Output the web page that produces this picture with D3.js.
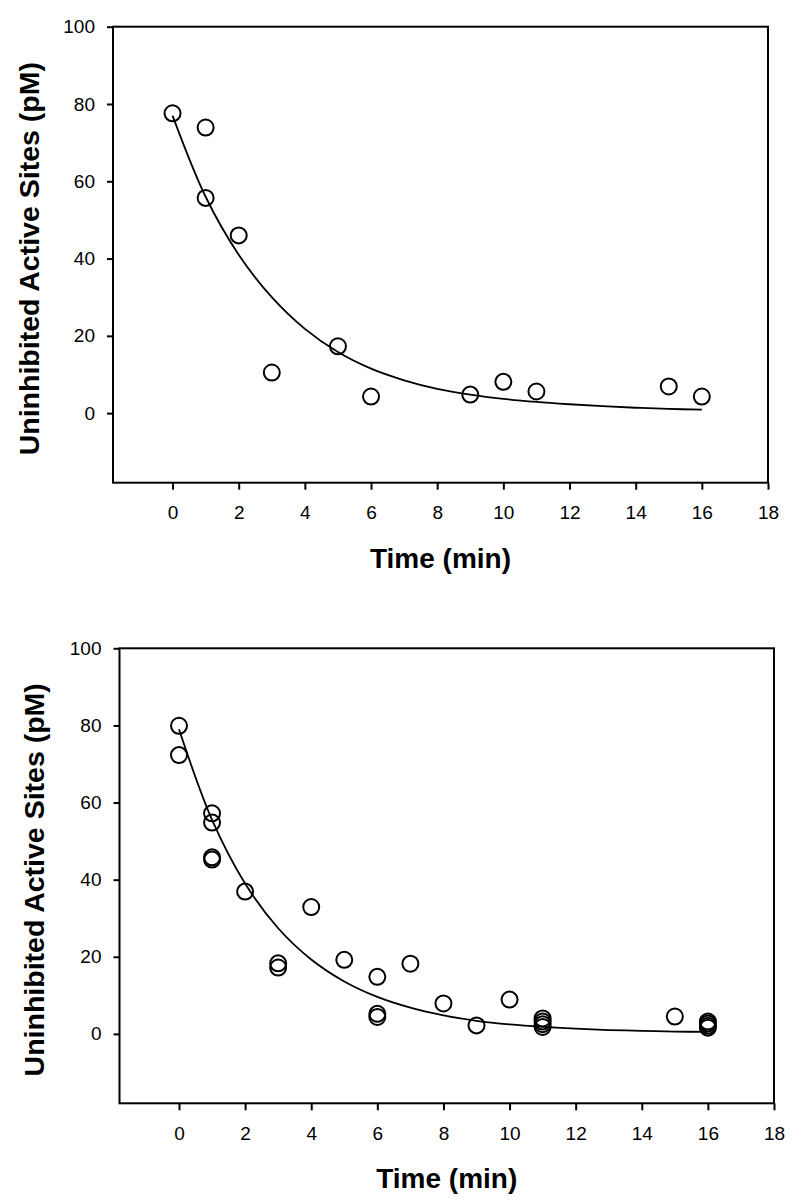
<!DOCTYPE html>
<html>
<head>
<meta charset="utf-8">
<script src="https://cdn.jsdelivr.net/npm/d3@7"></script>
<style>
  html, body { margin: 0; padding: 0; background: #fff; }
  svg { display: block; }
  text { font-family: "Liberation Sans", Arial, sans-serif; fill: #000; }
</style>
</head>
<body>
<svg id="chart" width="800" height="1202"></svg>
<script>
// ---------- Data ----------
const xTicks = [0, 2, 4, 6, 8, 10, 12, 14, 16, 18];
const yTicks = [0, 20, 40, 60, 80, 100];
const xLabel = "Time (min)";
const yLabel = "Uninhibited Active Sites (pM)";

// Panel A (top) observed points
const topTime  = [0, 1, 1, 2, 3, 5, 6, 9, 10, 11, 15, 16];
const topSites = [77.6, 73.9, 55.7, 46.0, 10.5, 17.3, 4.3, 4.8, 8.1, 5.6, 6.9, 4.3];
// Panel A fitted curve
const topFitTime  = [0, 1, 2, 3, 4, 5, 6, 7, 8, 9, 10, 11, 12, 13, 14, 15, 16];
const topFitSites = [77, 56, 41, 30, 21.8, 15.8, 11.5, 8.5, 6.3, 4.8, 3.7, 2.9, 2.3, 1.8, 1.4, 1.1, 0.9];

// Panel B (bottom) observed points
const botTime  = [0, 0, 1, 1, 1, 1, 2, 3, 3, 4, 5, 6, 6, 6, 7, 8, 9, 10, 11, 11, 11, 11, 15, 16, 16, 16, 16];
const botSites = [79.9, 72.3, 57.2, 54.8, 45.8, 45.2, 36.9, 18.3, 17.2, 32.9, 19.2, 14.8, 5.2, 4.4, 18.2, 7.9, 2.2, 8.9, 4.0, 3.2, 2.5, 1.8, 4.5, 3.2, 2.7, 2.1, 1.6];
// Panel B fitted curve
const botFitTime  = [0, 1, 2, 3, 4, 5, 6, 7, 8, 9, 10, 11, 12, 13, 14, 15, 16];
const botFitSites = [79, 55.5, 39, 27.4, 19.3, 13.6, 9.6, 6.8, 4.8, 3.4, 2.45, 1.8, 1.35, 1.0, 0.8, 0.6, 0.5];

const xDomain = [-1.8, 18];
const yDomain = [-18, 100];

// ---------- Drawing ----------
const svg = d3.select("#chart");

function panel(cfg) {
  const { left, right, top, bottom, time, sites, fitTime, fitSites, yTitleX } = cfg;
  const g = svg.append("g");
  const x = d3.scaleLinear().domain(xDomain).range([left, right]);
  const y = d3.scaleLinear().domain(yDomain).range([bottom, top]);

  // frame
  g.append("rect")
    .attr("x", left).attr("y", top)
    .attr("width", right - left).attr("height", bottom - top)
    .attr("fill", "none").attr("stroke", "#000").attr("stroke-width", 2);

  // y axis
  const ya = g.append("g").attr("transform", `translate(${left},0)`)
    .call(d3.axisLeft(y).tickValues(yTicks).tickSize(6).tickSizeOuter(0).tickPadding(12));
  ya.select(".domain").remove();
  ya.selectAll(".tick line").attr("stroke", "#000").attr("stroke-width", 2);
  ya.selectAll(".tick text").style("font-size", "19px").attr("fill", "#000");

  // x axis
  const xa = g.append("g").attr("transform", `translate(0,${bottom})`)
    .call(d3.axisBottom(x).tickValues(xTicks).tickSize(7).tickSizeOuter(0).tickPadding(16));
  xa.select(".domain").remove();
  xa.selectAll(".tick line").attr("stroke", "#000").attr("stroke-width", 2);
  xa.selectAll(".tick text").style("font-size", "19px").attr("fill", "#000");

  // fitted curve
  const fit = fitTime.map((t, i) => [t, fitSites[i]]);
  g.append("path")
    .datum(fit)
    .attr("fill", "none").attr("stroke", "#000").attr("stroke-width", 1.8)
    .attr("d", d3.line().x(d => x(d[0])).y(d => y(d[1])).curve(d3.curveCatmullRom.alpha(0.5)));

  // points
  const pts = time.map((t, i) => [t, sites[i]]);
  g.selectAll("circle.pt").data(pts).join("circle")
    .attr("class", "pt")
    .attr("cx", d => x(d[0])).attr("cy", d => y(d[1]))
    .attr("r", 8)
    .attr("fill", "none").attr("stroke", "#000").attr("stroke-width", 2);

  // axis titles
  g.append("text")
    .attr("x", (left + right) / 2).attr("y", bottom + 85)
    .attr("text-anchor", "middle")
    .style("font-size", "28px").style("font-weight", "bold")
    .text(xLabel);

  g.append("text")
    .attr("transform", `translate(${yTitleX},${(top + bottom) / 2 + 4}) rotate(-90)`)
    .attr("text-anchor", "middle")
    .attr("dy", "0.36em")
    .style("font-size", "28.5px").style("font-weight", "bold")
    .text(yLabel);
}

panel({ left: 113, right: 768, top: 26.7, bottom: 482.7,
        time: topTime, sites: topSites, fitTime: topFitTime, fitSites: topFitSites, yTitleX: 29 });
panel({ left: 119.5, right: 774, top: 648.3, bottom: 1103.3,
        time: botTime, sites: botSites, fitTime: botFitTime, fitSites: botFitSites, yTitleX: 34 });
</script>
</body>
</html>
